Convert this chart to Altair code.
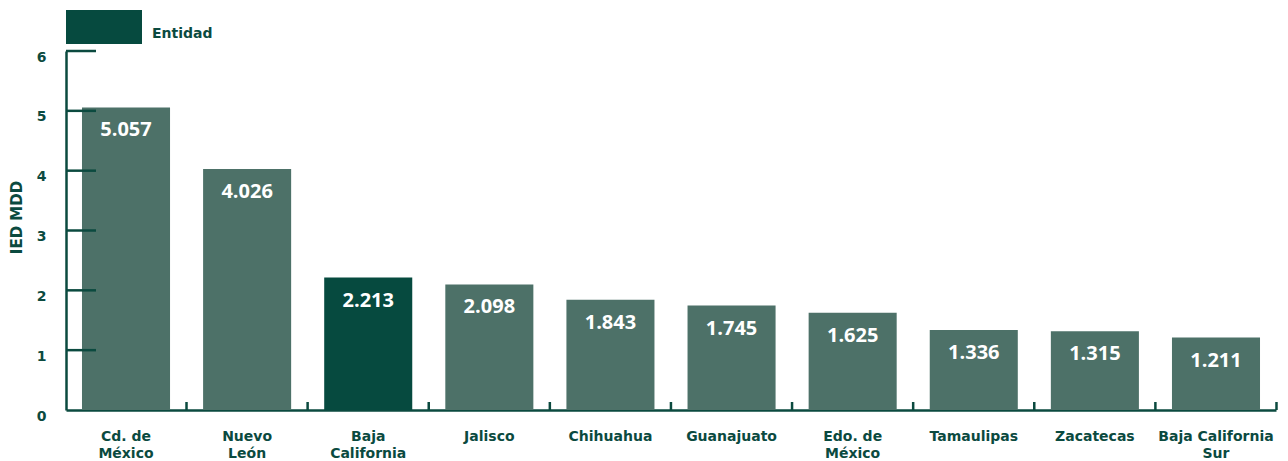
import altair as alt
import pandas as pd

categorias = ["Cd. de|México", "Nuevo|León", "Baja|California", "Jalisco", "Chihuahua",
              "Guanajuato", "Edo. de|México", "Tamaulipas", "Zacatecas", "Baja California|Sur"]
valores = [5.057, 4.026, 2.213, 2.098, 1.843, 1.745, 1.625, 1.336, 1.315, 1.211]
tipo = ["Otro", "Otro", "Entidad", "Otro", "Otro", "Otro", "Otro", "Otro", "Otro", "Otro"]
y_ticks = [1, 2, 3, 4, 5, 6]

df = pd.DataFrame({"cat": categorias, "val": valores, "tipo": tipo})
df_ticks = pd.DataFrame({"t": y_ticks})

DARK = "#064a3f"
LIGHT = "#4d7168"
TXT = "#0b4a3f"
FONT = "Open Sans"
AFONT = "DejaVu Sans"
W, H = 1210, 359

xscale = alt.Scale(domain=categorias, paddingInner=0.273, paddingOuter=0.132)
yscale = alt.Scale(domain=[0, 6], nice=False)

base = alt.Chart(df)

bars = base.mark_bar(opacity=1).encode(
    x=alt.X("cat:N", scale=xscale, sort=categorias,
            axis=alt.Axis(title=None, labelAngle=0, tickSize=0, labelPadding=19,
                          labelExpr="split(datum.label, '|')", labelFontSize=14,
                          labelFontWeight="bold", labelColor=TXT, labelFont=AFONT,
                          labelLineHeight=17, domainColor=TXT, domainWidth=2.5)),
    y=alt.Y("val:Q", scale=yscale,
            axis=alt.Axis(title="IED MDD", values=[0, 1, 2, 3, 4, 5, 6], format="d",
                          tickSize=0, grid=False, labelPadding=20, labelOffset=6,
                          labelFontSize=14, labelFontWeight="bold", labelColor=TXT,
                          labelFont=AFONT, titleFontSize=15, titleFontWeight="bold",
                          titleColor=TXT, titleFont=AFONT, titleX=-42,
                          titleY=166, titleAnchor="middle",
                          domainColor=TXT, domainWidth=2.5)),
    color=alt.Color("tipo:N",
                    scale=alt.Scale(domain=["Entidad", "Otro"], range=[DARK, LIGHT]),
                    legend=alt.Legend(title=None, values=["Entidad"], orient="none",
                                      legendX=0, legendY=-62,
                                      symbolType="M-1,-0.447H1V0.447H-1Z",
                                      symbolSize=5776, symbolStrokeWidth=0,
                                      symbolOpacity=1,
                                      labelFontSize=14, labelFontWeight="bold",
                                      labelColor=TXT, labelFont=AFONT, labelOffset=10,
                                      labelBaseline="top", labelLimit=200,
                                      padding=0)),
)

labels = base.mark_text(color="white", fontSize=20, fontWeight="bold", font=FONT,
                        baseline="middle", dy=23).encode(
    x=alt.X("cat:N", scale=xscale, sort=categorias),
    y=alt.Y("val:Q", scale=yscale),
    text=alt.Text("val:Q", format=".3f"),
)

xticks = base.mark_rule(color=TXT, strokeWidth=2.5, xOffset=60.5).encode(
    x=alt.X("cat:N", scale=xscale, sort=categorias),
    y=alt.value(H - 8),
    y2=alt.value(H),
)

yticks = alt.Chart(df_ticks).mark_rule(color=TXT, strokeWidth=2.5).encode(
    y=alt.Y("t:Q", scale=yscale),
    x=alt.value(0),
    x2=alt.value(30),
)

chart = alt.layer(bars, labels, xticks, yticks).properties(
    width=W, height=H,
    background="white",
    autosize=alt.AutoSizeParams(type="none"),
    padding={"left": 58, "top": 43, "right": 4, "bottom": 50},
).configure_view(stroke=None)

chart.save("out.html", embed_options={"renderer": "svg", "actions": False})
